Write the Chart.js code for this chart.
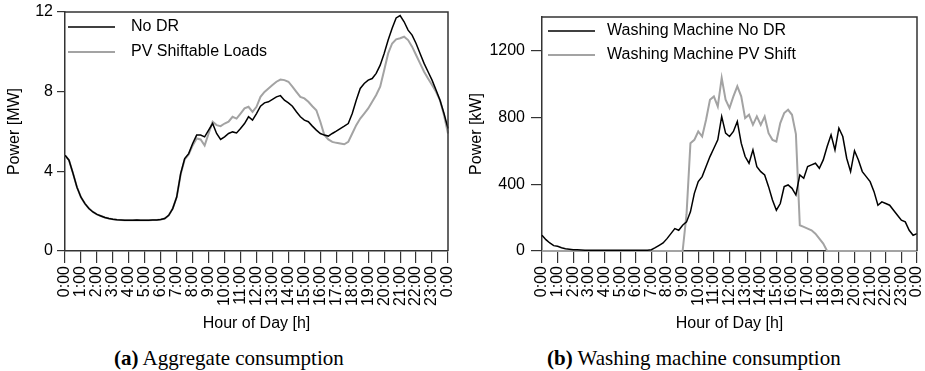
<!DOCTYPE html>
<html>
<head>
<meta charset="utf-8">
<script src="https://cdn.jsdelivr.net/npm/chart.js@4/dist/chart.umd.min.js"></script>
<style>
  html, body { margin: 0; padding: 0; background: #fff; }
  #wrap { position: relative; width: 925px; height: 371px; overflow: hidden; }
  canvas { position: absolute; top: 0; }
  .cap { position: absolute; top: 346px; font-family: "Liberation Serif", "Times New Roman", serif; font-size: 21px; line-height: 24px; color: #000; white-space: nowrap; }
</style>
</head>
<body>
<div id="wrap">
  <canvas id="c1" width="460" height="340" style="left:0px"></canvas>
  <canvas id="c2" width="465" height="340" style="left:460px"></canvas>
  <div class="cap" style="left:114px"><b>(a)</b> Aggregate consumption</div>
  <div class="cap" style="left:547px"><b>(b)</b> Washing machine consumption</div>
</div>
<script>
// ---- data (15-minute resolution, 0:00 .. 24:00) ----
const hourTicks = [0,1,2,3,4,5,6,7,8,9,10,11,12,13,14,15,16,17,18,19,20,21,22,23,24];
const aggYTicks = [0, 4, 8, 12];
const wmYTicks = [0, 400, 800, 1200];

const aggNoDR = [
  4.81, 4.56, 3.90, 3.20,
  2.70, 2.38, 2.13, 1.96,
  1.84, 1.76, 1.68, 1.63,
  1.59, 1.57, 1.56, 1.55,
  1.54, 1.55, 1.56, 1.55,
  1.54, 1.55, 1.56, 1.56,
  1.58, 1.63, 1.79, 2.13,
  2.71, 3.89, 4.64, 4.89,
  5.40, 5.82, 5.82, 5.73,
  6.07, 6.40, 5.90, 5.60,
  5.73, 5.90, 5.98, 5.93,
  6.15, 6.40, 6.74, 6.57,
  6.90, 7.27, 7.44, 7.49,
  7.61, 7.74, 7.80, 7.57,
  7.44, 7.27, 6.99, 6.74,
  6.57, 6.49, 6.27, 6.07,
  5.90, 5.82, 5.77, 5.90,
  6.02, 6.15, 6.27, 6.40,
  6.90, 7.57, 8.16, 8.41,
  8.58, 8.66, 8.92, 9.33,
  9.92, 10.59, 11.18, 11.70,
  11.82, 11.51, 11.09, 10.84,
  10.42, 9.92, 9.42, 9.00,
  8.58, 8.08, 7.57, 6.90,
  6.15
];
const aggPV = [
  4.81, 4.56, 3.90, 3.20,
  2.70, 2.38, 2.13, 1.96,
  1.84, 1.76, 1.68, 1.63,
  1.59, 1.57, 1.56, 1.55,
  1.54, 1.55, 1.56, 1.55,
  1.54, 1.55, 1.56, 1.56,
  1.58, 1.63, 1.79, 2.13,
  2.71, 3.85, 4.60, 4.85,
  5.30, 5.65, 5.60, 5.30,
  5.90, 6.49, 6.32, 6.27,
  6.40, 6.49, 6.74, 6.65,
  6.90, 7.16, 7.24, 6.99,
  7.24, 7.74, 7.99, 8.16,
  8.33, 8.50, 8.61, 8.58,
  8.50, 8.25, 7.99, 7.74,
  7.66, 7.49, 7.27, 7.07,
  6.49, 5.82, 5.60, 5.48,
  5.43, 5.40, 5.36, 5.48,
  5.90, 6.32, 6.65, 6.90,
  7.16, 7.49, 7.83, 8.25,
  9.08, 9.92, 10.42, 10.63,
  10.68, 10.76, 10.59, 10.26,
  9.84, 9.42, 9.00, 8.66,
  8.33, 7.99, 7.57, 6.82,
  5.90
];
const wmNoDR = [
  94, 68, 48, 32,
  28, 20, 14, 11,
  8, 7, 6, 5,
  5, 5, 4, 4,
  4, 4, 4, 4,
  4, 4, 4, 4,
  4, 4, 4, 5,
  8, 20, 34, 48,
  74, 104, 134, 124,
  154, 174, 234, 345,
  415, 445, 505, 565,
  615, 665, 805, 705,
  685, 715, 775, 645,
  565, 525, 605, 505,
  475, 455, 385, 305,
  244, 284, 385, 395,
  375, 335, 455, 435,
  505, 515, 525, 495,
  545, 625, 695, 605,
  735, 685, 555, 475,
  600, 545, 475, 445,
  415, 355, 274, 294,
  284, 274, 244, 214,
  184, 174, 124, 94,
  104
];
const wmPV = [
  0, 0, 0, 0,
  0, 0, 0, 0,
  0, 0, 0, 0,
  0, 0, 0, 0,
  0, 0, 0, 0,
  0, 0, 0, 0,
  0, 0, 0, 0,
  0, 0, 0, 0,
  0, 0, 0, 0,
  0, 220, 645, 665,
  715, 685, 785, 905,
  925, 865, 1036, 905,
  855, 925, 985, 925,
  795, 815, 755, 805,
  755, 805, 705, 665,
  655, 765, 825, 845,
  815, 700, 154, 144,
  134, 124, 104, 74,
  44, 0, 0, 0,
  0, 0, 0, 0,
  0, 0, 0, 0,
  0, 0, 0, 0,
  0, 0, 0, 0,
  0, 0, 0, 0,
  0
];

// ---- helpers ----
const toXY = arr => arr.map((v, i) => ({ x: i / 4, y: v }));
const FONT = '"Liberation Sans", Arial, Helvetica, sans-serif';
Chart.defaults.font.family = FONT;
Chart.defaults.font.size = 16;
Chart.defaults.color = '#000';
const AX = '#333';

const inLegend = {
  id: 'inLegend',
  afterDraw(chart, args, o) {
    const ctx = chart.ctx;
    ctx.save();
    ctx.font = '16px ' + FONT;
    ctx.textBaseline = 'middle';
    ctx.textAlign = 'left';
    chart.data.datasets.forEach((ds, i) => {
      const y = o.y0 + i * o.dy;
      ctx.strokeStyle = ds.borderColor;
      ctx.lineWidth = ds.borderWidth;
      ctx.beginPath(); ctx.moveTo(o.x0, y); ctx.lineTo(o.x0 + o.len, y); ctx.stroke();
      ctx.fillStyle = '#000';
      ctx.fillText(ds.label, o.tx, y);
    });
    ctx.restore();
  }
};
const frame = {
  id: 'frame',
  afterDatasetsDraw(chart) {
    const a = chart.chartArea, ctx = chart.ctx;
    ctx.save();
    ctx.strokeStyle = AX; ctx.lineWidth = 1.5;
    ctx.beginPath();
    ctx.moveTo(a.left, a.top); ctx.lineTo(a.right, a.top); ctx.lineTo(a.right, a.bottom);
    ctx.stroke();
    ctx.restore();
  }
};

function makeChart(id, d1, d2, l1, l2, yTicks, yMax, yTitle, cfg) {
  return new Chart(document.getElementById(id), {
    type: 'line',
    data: {
      datasets: [
        { label: l1, data: toXY(d1), borderColor: '#000', borderWidth: 1.5, pointRadius: 0, tension: 0, clip: 3 },
        { label: l2, data: toXY(d2), borderColor: '#a3a3a3', borderWidth: 2, pointRadius: 0, tension: 0, clip: 3 }
      ]
    },
    options: {
      responsive: false, animation: false, devicePixelRatio: 1,
      layout: { padding: { left: 0, right: cfg.padR, top: cfg.padT, bottom: 0 } },
      plugins: { legend: { display: false }, tooltip: { enabled: false }, inLegend: cfg.legend },
      scales: {
        x: {
          type: 'linear', min: 0, max: 24,
          afterBuildTicks: s => { s.ticks = hourTicks.map(v => ({ value: v })); },
          afterFit: s => { s.height = 340 - cfg.bottom; s.paddingLeft = 0; s.paddingRight = 0; },
          ticks: { autoSkip: false, minRotation: 90, maxRotation: 90, padding: 3,
                   callback: v => (v % 24) + ':00' },
          grid: { display: true, drawOnChartArea: false, drawTicks: true, tickLength: 12, color: AX, lineWidth: 1.2 },
          border: { display: true, color: AX, width: 1.5 },
          title: { display: true, text: 'Hour of Day [h]', font: { size: 16 }, padding: { top: 4, bottom: 7 } }
        },
        y: {
          min: 0, max: yMax,
          afterBuildTicks: s => { s.ticks = yTicks.map(v => ({ value: v })); },
          afterFit: s => { s.width = cfg.left; s.paddingTop = 0; s.paddingBottom = 0; },
          ticks: { padding: cfg.yPad, callback: v => String(v) },
          grid: { display: true, drawOnChartArea: false, drawTicks: true, tickLength: cfg.yTick, color: AX, lineWidth: 1.2 },
          border: { display: true, color: AX, width: 1.5 },
          title: { display: true, text: yTitle, font: { size: 16 }, padding: { top: cfg.titlePad, bottom: 0 } }
        }
      }
    },
    plugins: [frame, inLegend]
  });
}

makeChart('c1', aggNoDR, aggPV, 'No DR', 'PV Shiftable Loads', aggYTicks, 12, 'Power [MW]',
  { padR: 12, padT: 12, bottom: 251, left: 65, yPad: 4, yTick: 8, titlePad: 5,
    legend: { x0: 68, len: 47, tx: 131, y0: 27, dy: 25 } });
makeChart('c2', wmNoDR, wmPV, 'Washing Machine No DR', 'Washing Machine PV Shift', wmYTicks, 1400, 'Power [kW]',
  { padR: 8, padT: 17, bottom: 251, left: 82, yPad: 6, yTick: 11, titlePad: 7,
    legend: { x0: 88, len: 47, tx: 147, y0: 31, dy: 24 } });
</script>
</body>
</html>
